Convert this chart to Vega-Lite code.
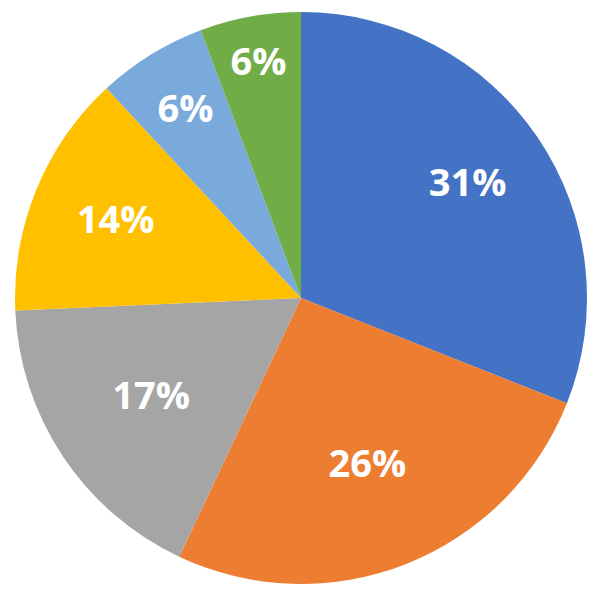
{
  "$schema": "https://vega.github.io/schema/vega-lite/v6.json",
  "width": 602,
  "height": 596,
  "autosize": {"type": "fit", "contains": "padding"},
  "padding": 0,
  "background": "white",
  "view": {"stroke": null},
  "data": {
    "values": [
      {"k": 1, "cat": "A", "share": 31.0, "label": "31%"},
      {"k": 2, "cat": "B", "share": 26.0, "label": "26%"},
      {"k": 3, "cat": "C", "share": 17.3, "label": "17%"},
      {"k": 4, "cat": "D", "share": 13.8, "label": "14%"},
      {"k": 5, "cat": "E", "share": 6.2, "label": "6%"},
      {"k": 6, "cat": "F", "share": 5.7, "label": "6%"}
    ]
  },
  "transform": [
    {"stack": "share", "groupby": [], "sort": [{"field": "k", "order": "ascending"}], "as": ["s0", "s1"]},
    {"calculate": "(datum.s0 + datum.s1) / 2", "as": "mid"}
  ],
  "layer": [
    {
      "mark": {"type": "arc", "outerRadius": 286, "stroke": null},
      "encoding": {
        "theta": {"field": "s0", "type": "quantitative", "scale": {"domain": [0, 100]}},
        "theta2": {"field": "s1"},
        "color": {
          "field": "cat",
          "type": "nominal",
          "legend": null,
          "scale": {
            "domain": ["A", "B", "C", "D", "E", "F"],
            "range": ["#4472C4", "#ED7D31", "#A5A5A5", "#FFC000", "#7AAADB", "#70AD47"]
          }
        }
      }
    },
    {
      "mark": {
        "type": "text",
        "font": "Open Sans",
        "fontWeight": "bold",
        "fontSize": 38,
        "fill": "white",
        "align": "center",
        "baseline": "middle"
      },
      "encoding": {
        "theta": {"field": "mid", "type": "quantitative", "scale": {"domain": [0, 100]}},
        "radius": {
          "field": "k",
          "type": "quantitative",
          "scale": {
            "type": "threshold",
            "domain": [1.5, 2.5, 3.5, 4.5, 5.5],
            "range": [191, 170, 190, 211, 229, 241]
          }
        },
        "text": {"field": "label", "type": "nominal"}
      }
    }
  ]
}
